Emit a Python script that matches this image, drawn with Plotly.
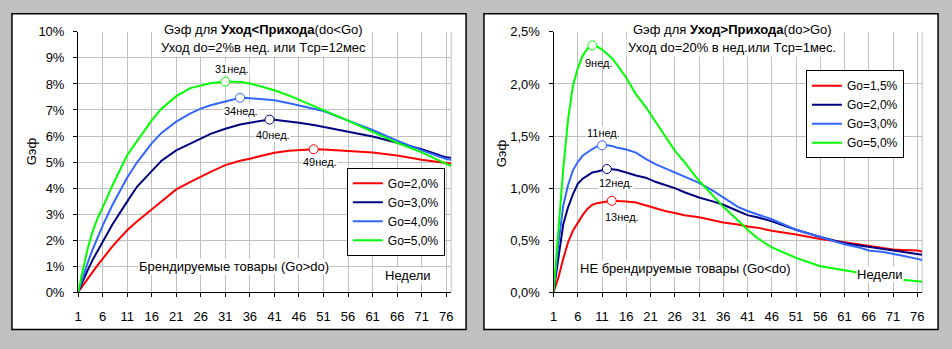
import plotly.graph_objects as go

W, H = 952, 349


def px(x):
    return x / W


def py(y):
    return 1 - y / H


# ---------------- data: left chart (do < Go) ----------------
weeks_L = [1, 2, 3, 4, 5, 6, 8, 11, 13, 16, 18, 21, 24, 26, 28, 31, 34, 36, 40, 41, 44,
           46, 49, 51, 56, 61, 66, 71, 76, 77]
red_L = [0, 0.27, 0.53, 0.79, 1.04, 1.28, 1.76, 2.38, 2.72, 3.18, 3.48, 3.95, 4.25, 4.45,
         4.62, 4.88, 5.05, 5.13, 5.32, 5.36, 5.43, 5.46, 5.49, 5.48, 5.43, 5.37, 5.25,
         5.09, 4.96, 4.94]
navy_L = [0, 0.45, 0.86, 1.25, 1.6, 1.93, 2.6, 3.48, 4.05, 4.65, 5.05, 5.45, 5.72, 5.92,
          6.08, 6.28, 6.44, 6.51, 6.63, 6.62, 6.56, 6.51, 6.42, 6.35, 6.16, 5.98, 5.74,
          5.49, 5.18, 5.16]
blue_L = [0, 0.6, 1.15, 1.65, 2.1, 2.55, 3.35, 4.4, 4.98, 5.72, 6.12, 6.55, 6.88, 7.05,
          7.18, 7.33, 7.47, 7.45, 7.39, 7.37, 7.26, 7.18, 7.05, 6.96, 6.59, 6.23, 5.82,
          5.45, 5.12, 5.09]
green_L = [0, 0.9, 1.7, 2.35, 2.85, 3.25, 4.1, 5.26, 5.78, 6.6, 7.05, 7.53, 7.85, 7.95,
           8.03, 8.09, 8.07, 8.02, 7.82, 7.76, 7.55, 7.39, 7.17, 7.02, 6.59, 6.16, 5.74,
           5.37, 4.94, 4.84]
names_L = ["Go=2,0%", "Go=3,0%", "Go=4,0%", "Go=5,0%"]
peaks_L = [49, 40, 34, 31]

# ---------------- data: right chart (do > Go) ----------------
weeks_R = [1, 2, 3, 4, 5, 6, 7, 8, 9, 10, 11, 12, 13, 14, 16, 18, 20, 22, 24, 26, 28,
           31, 34, 36, 39, 41, 43, 46, 51, 56, 61, 64, 66, 69, 71, 73, 76, 77]
red_R = [0, 0.14, 0.32, 0.48, 0.59, 0.67, 0.74, 0.80, 0.84, 0.855, 0.865, 0.872, 0.877,
         0.876, 0.872, 0.862, 0.835, 0.805, 0.78, 0.76, 0.74, 0.72, 0.69, 0.67, 0.65,
         0.63, 0.62, 0.59, 0.555, 0.51, 0.48, 0.46, 0.44, 0.42, 0.41, 0.405, 0.40, 0.39]
navy_R = [0, 0.32, 0.65, 0.815, 0.94, 1.04, 1.09, 1.12, 1.15, 1.16, 1.17, 1.183, 1.18,
          1.175, 1.15, 1.12, 1.10, 1.06, 1.03, 1.0, 0.96, 0.91, 0.87, 0.84, 0.78, 0.74,
          0.72, 0.68, 0.60, 0.53, 0.47, 0.45, 0.43, 0.415, 0.40, 0.39, 0.37, 0.36]
blue_R = [0, 0.46, 0.83, 1.03, 1.17, 1.25, 1.31, 1.345, 1.375, 1.40, 1.41, 1.41, 1.405,
          1.39, 1.37, 1.34, 1.28, 1.23, 1.19, 1.15, 1.11, 1.05, 0.97, 0.91, 0.82, 0.78,
          0.75, 0.70, 0.60, 0.53, 0.46, 0.43, 0.40, 0.385, 0.37, 0.35, 0.32, 0.31]
green_R = [0, 0.6, 1.18, 1.66, 1.98, 2.15, 2.27, 2.34, 2.37, 2.36, 2.33, 2.29, 2.25, 2.19,
           2.06, 1.9, 1.78, 1.64, 1.5, 1.36, 1.25, 1.07, 0.92, 0.82, 0.69, 0.60, 0.52,
           0.43, 0.33, 0.25, 0.21, 0.19, 0.17, 0.145, 0.13, 0.12, 0.105, 0.10]
names_R = ["Go=1,5%", "Go=2,0%", "Go=3,0%", "Go=5,0%"]
peaks_R = [13, 12, 11, 9]

x_ticks = list(range(1, 77, 5))
y_ticks_L = list(range(0, 11))
y_ticks_R = [0, 0.5, 1.0, 1.5, 2.0, 2.5]
y_text_L = [f"{v}%" for v in y_ticks_L]
y_text_R = [f"{v:.1f}".replace(".", ",") + "%" for v in y_ticks_R]

COLORS = ["#FF0000", "#000080", "#3366FF", "#00FF00"]
FONT = "Liberation Sans, Arial, sans-serif"
GRID = "#C0C0C0"

# label offsets (pixels) relative to peak markers, and whether they have a white box
lab_shift_L = [(6, -13), (3, -15), (1, -13), (7, 13)]
lab_shift_R = [(10, -16), (9, -14), (1, 12), (7, -18)]
lab_bg_R = [True, True, True, False]

fig = go.Figure()

series_L = [red_L, navy_L, blue_L, green_L]
series_R = [red_R, navy_R, blue_R, green_R]

annotations = []
for i, ys in enumerate(series_L):
    fig.add_trace(go.Scatter(x=weeks_L, y=ys, mode="lines", name=names_L[i],
                             line=dict(color=COLORS[i], width=2),
                             xaxis="x", yaxis="y", legend="legend"))
for i, ys in enumerate(series_R):
    fig.add_trace(go.Scatter(x=weeks_R, y=ys, mode="lines", name=names_R[i],
                             line=dict(color=COLORS[i], width=2),
                             xaxis="x2", yaxis="y2", legend="legend2"))

small = dict(size=11, color="black", family=FONT)
for i, ys in enumerate(series_L):
    w = peaks_L[i]
    v = ys[weeks_L.index(w)]
    fig.add_trace(go.Scatter(x=[w], y=[v], mode="markers", showlegend=False,
                             marker=dict(symbol="circle", size=9, color="white",
                                         line=dict(color=COLORS[i], width=1)),
                             xaxis="x", yaxis="y"))
    annotations.append(dict(x=w, y=v, xref="x", yref="y", text=f"{w}нед.",
                            showarrow=False, xshift=lab_shift_L[i][0],
                            yshift=lab_shift_L[i][1], bgcolor="white", borderpad=0,
                            font=small))
for i, ys in enumerate(series_R):
    w = peaks_R[i]
    v = ys[weeks_R.index(w)]
    fig.add_trace(go.Scatter(x=[w], y=[v], mode="markers", showlegend=False,
                             marker=dict(symbol="circle", size=9, color="white",
                                         line=dict(color=COLORS[i], width=1)),
                             xaxis="x2", yaxis="y2"))
    annotations.append(dict(x=w, y=v, xref="x2", yref="y2", text=f"{w}нед.",
                            showarrow=False, xshift=lab_shift_R[i][0],
                            yshift=lab_shift_R[i][1],
                            bgcolor="white" if lab_bg_R[i] else "rgba(0,0,0,0)",
                            borderpad=0, font=small))

txt = dict(size=13, color="black", family=FONT)
leg_font = dict(size=12, color="black", family=FONT)


def note(x, y, text, bg=True, angle=0, pad=1):
    d = dict(x=px(x), y=py(y), xref="paper", yref="paper", text=text,
             showarrow=False, font=txt, textangle=angle, borderpad=pad,
             xanchor="center", yanchor="middle")
    if bg:
        d["bgcolor"] = "white"
    return d


annotations += [
    note(261, 23, "Gэф для <b>Уход&lt;Прихода</b>(do&lt;Go)", pad=2),
    note(261, 42, "Уход do=2%в нед. или Tср=12мес", pad=1),
    note(231, 271, "Брендируемые товары (Go&gt;do)", pad=0),
    note(407, 281, "Недели", pad=0),
    note(28, 151, "Gэф", bg=False, angle=-90),
    note(733, 23, "Gэф для <b>Уход&gt;Прихода</b>(do&gt;Go)", pad=2),
    note(733, 42, "Уход do=20% в нед.или Tср=1мес.", pad=1),
    note(686, 273, "НЕ брендируемые товары (Go&lt;do)", pad=0),
    note(882, 280, "Недели", pad=0),
    note(501, 153, "Gэф", bg=False, angle=-90),
]

shapes = [
    dict(type="rect", xref="paper", yref="paper", x0=px(8), x1=px(465), y0=py(337),
         y1=py(7), fillcolor="white", line=dict(color="black", width=1.5), layer="below"),
    dict(type="rect", xref="paper", yref="paper", x0=px(483), x1=px(940), y0=py(337),
         y1=py(7), fillcolor="white", line=dict(color="black", width=1.5), layer="below"),
    dict(type="line", xref="x domain", yref="y domain", x0=1, x1=1, y0=0, y1=1,
         line=dict(color=GRID, width=1), layer="below"),
    dict(type="line", xref="x2 domain", yref="y2 domain", x0=1, x1=1, y0=0, y1=1,
         line=dict(color=GRID, width=1), layer="below"),
]

axis_common = dict(showline=True, linecolor="black", linewidth=1, ticks="outside",
                   ticklen=4, tickcolor="black", showgrid=True, gridcolor=GRID,
                   gridwidth=1, zeroline=False, tickfont=txt, fixedrange=True)

fig.update_layout(
    width=W, height=H, autosize=False,
    margin=dict(l=0, r=0, t=0, b=0),
    paper_bgcolor="#C0C0C0", plot_bgcolor="rgba(0,0,0,0)",
    separators=", ",
    font=txt,
    xaxis=dict(domain=[px(74.5), px(450)], range=[1, 77], tickmode="array",
               tickvals=x_ticks, anchor="y", ticklabelstandoff=8, **axis_common),
    yaxis=dict(domain=[py(298), py(26)], range=[0, 10], tickmode="array",
               tickvals=y_ticks_L, ticktext=y_text_L, anchor="x",
               ticklabelstandoff=6, **axis_common),
    xaxis2=dict(domain=[px(553), px(924)], range=[1, 77], tickmode="array",
                tickvals=x_ticks, anchor="y2", ticklabelstandoff=8, **axis_common),
    yaxis2=dict(domain=[py(298), py(26)], range=[0, 2.5], tickmode="array",
                tickvals=y_ticks_R, ticktext=y_text_R, anchor="x2",
                ticklabelstandoff=6, **axis_common),
    legend=dict(x=px(345), y=py(168), xanchor="left", yanchor="top",
                bgcolor="white", bordercolor="black", borderwidth=1, font=leg_font,
                tracegroupgap=0),
    legend2=dict(x=px(807), y=py(66), xanchor="left", yanchor="top",
                 bgcolor="white", bordercolor="black", borderwidth=1, font=leg_font,
                 tracegroupgap=0),
    annotations=annotations,
    shapes=shapes,
    showlegend=True,
)

fig.write_html("out.html")
